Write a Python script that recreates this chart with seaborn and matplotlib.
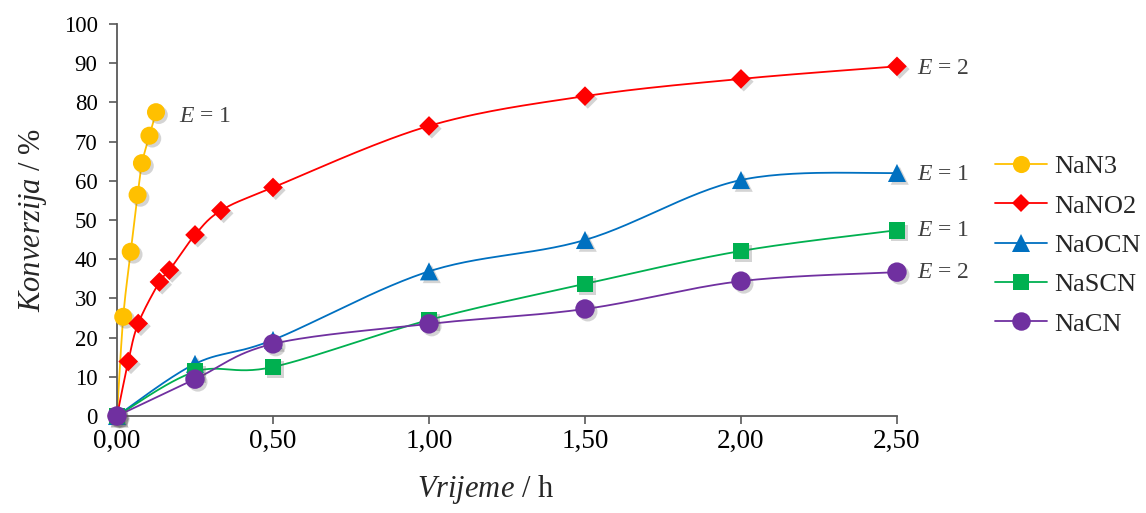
import numpy as np
import pandas as pd
import matplotlib
matplotlib.use("Agg")
import matplotlib.pyplot as plt
import matplotlib.patheffects as pe
from matplotlib.lines import Line2D
from matplotlib.ticker import FuncFormatter, MultipleLocator
import seaborn as sns

# ── Data ───────────────────────────────────────────────────────────────────
nan3_t = [0, 0.020, 0.044, 0.066, 0.080, 0.104, 0.125]
nan3_y = [0, 25.3, 41.9, 56.4, 64.5, 71.5, 77.5]

nano2_t = [0, 0.036, 0.068, 0.136, 0.168, 0.25, 0.333, 0.5, 1.0, 1.5, 2.0, 2.5]
nano2_y = [0, 13.9, 23.6, 34.2, 37.2, 46.2, 52.4, 58.3, 74.0, 81.6, 86.0, 89.2]

t_std = [0, 0.25, 0.5, 1.0, 1.5, 2.0, 2.5]
naocn_y = [0, 13.3, 19.4, 36.9, 44.9, 60.2, 62.0]
nascn_y = [0, 11.3, 12.5, 24.5, 33.7, 42.1, 47.4]
nacn_y = [0, 9.4, 18.4, 23.5, 27.3, 34.4, 36.7]

series_names = ["NaN3", "NaNO2", "NaOCN", "NaSCN", "NaCN"]
colors = ["#FFC000", "#FF0000", "#0070C0", "#00B050", "#7030A0"]
markers = ["o", "D", "^", "s", "o"]
marker_sizes = [13, 10, 13, 12, 14]

e_values = ["1", "2", "1", "1", "2"]

df = pd.concat(
    [
        pd.DataFrame({"series": "NaN3", "t": nan3_t, "conv": nan3_y}),
        pd.DataFrame({"series": "NaNO2", "t": nano2_t, "conv": nano2_y}),
        pd.DataFrame({"series": "NaOCN", "t": t_std, "conv": naocn_y}),
        pd.DataFrame({"series": "NaSCN", "t": t_std, "conv": nascn_y}),
        pd.DataFrame({"series": "NaCN", "t": t_std, "conv": nacn_y}),
    ],
    ignore_index=True,
)


def smooth(x, y, n=30):
    """Excel-style smoothed line (Catmull-Rom through the data points)."""
    p = np.column_stack([x, y]).astype(float)
    p = np.vstack([p[0], p, p[-1]])
    out = []
    s = np.linspace(0, 1, n, endpoint=False)[:, None]
    for i in range(1, len(p) - 2):
        p0, p1, p2, p3 = p[i - 1], p[i], p[i + 1], p[i + 2]
        c1 = p1 + (p2 - p0) / 6
        c2 = p2 - (p3 - p1) / 6
        seg = ((1 - s) ** 3) * p1 + 3 * ((1 - s) ** 2) * s * c1 + 3 * (1 - s) * s**2 * c2 + s**3 * p2
        out.append(seg)
    out.append(p[-2][None, :])
    out = np.vstack(out)
    return out[:, 0], out[:, 1]


# ── Style ──────────────────────────────────────────────────────────────────
sns.set_theme(style="white")
plt.rcParams["font.family"] = ["Liberation Serif", "DejaVu Serif"]
plt.rcParams["mathtext.fontset"] = "custom"
plt.rcParams["mathtext.rm"] = "Liberation Serif"
plt.rcParams["mathtext.it"] = "Liberation Serif:italic"

fig = plt.figure(figsize=(11.46, 5.13), dpi=100)
ax = fig.add_axes([0.1021, 0.1891, 0.6806, 0.7641])

shadow = [pe.SimplePatchShadow(offset=(2, -2), alpha=0.25, shadow_rgbFace="#555555"), pe.Normal()]

for name, col, mk, ms in zip(series_names, colors, markers, marker_sizes):
    sub = df[df["series"] == name]
    xs, ys = smooth(sub["t"].values, sub["conv"].values)
    sns.lineplot(x=xs, y=ys, ax=ax, color=col, lw=1.3, sort=False, estimator=None)
    sns.scatterplot(
        data=sub, x="t", y="conv", ax=ax, color=col, marker=mk,
        s=ms**2, edgecolor="none", linewidth=0, zorder=3, legend=False,
    )
    ax.collections[-1].set_path_effects(shadow)

ax.set_xlim(0, 2.5)
ax.set_ylim(0, 100)
ax.xaxis.set_major_locator(MultipleLocator(0.5))
ax.yaxis.set_major_locator(MultipleLocator(10))
ax.xaxis.set_major_formatter(FuncFormatter(lambda v, _: f"{v:.2f}".replace(".", ",")))
ax.yaxis.set_major_formatter(FuncFormatter(lambda v, _: f"{v:.0f}"))
ax.tick_params(axis="both", colors="black", length=6, width=1.2,
               direction="out", bottom=True, left=True, color="#595959")
ax.tick_params(axis="x", labelsize=19.5, pad=3)
ax.tick_params(axis="y", labelsize=16.5, pad=8)
for side in ["top", "right"]:
    ax.spines[side].set_visible(False)
for side in ["left", "bottom"]:
    ax.spines[side].set_color("#595959")
    ax.spines[side].set_linewidth(1.3)
for art in ax.collections + ax.lines:
    art.set_clip_on(False)

ax.set_xlabel(r"$Vrijeme$ / h", fontsize=22)
ax.set_ylabel(r"$Konverzija$ / %", fontsize=22)
ax.xaxis.set_label_coords(0.473, -0.145)
ax.yaxis.set_label_coords(-0.087, 0.5)

# E annotations
e_pos = [(0.2, 76.5), (2.565, 88.6), (2.565, 61.6), (2.565, 47.2), (2.565, 36.6)]
for (ex, ey), val in zip(e_pos, e_values):
    ax.text(ex, ey, rf"$E$ = {val}", fontsize=17, color="#404040",
            ha="left", va="center", clip_on=False)

handles = [
    Line2D([0], [0], color=c, marker=m, markersize=ms * 0.95, lw=1.3,
           markeredgewidth=0)
    for c, m, ms in zip(colors, markers, marker_sizes)
]
fig.legend(handles, series_names, loc="center left", bbox_to_anchor=(0.868, 0.522),
           frameon=False, fontsize=19, handlelength=1.97, labelspacing=0.6,
           handletextpad=0.27, borderaxespad=0, borderpad=0)

fig.savefig("out.png", dpi=100)
